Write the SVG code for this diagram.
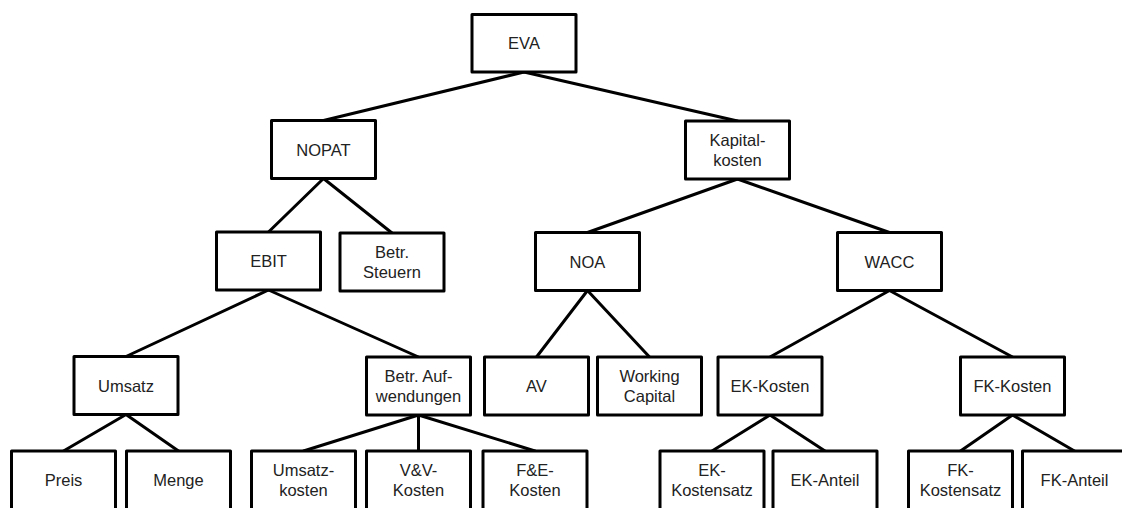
<svg xmlns="http://www.w3.org/2000/svg" width="1122" height="508" viewBox="0 0 1122 508">
<style>
.b{fill:#fff;stroke:#000;stroke-width:3;stroke-linejoin:round}
.c line{stroke:#000;stroke-width:3;stroke-linecap:round}
text{font-family:"Liberation Sans",Arial,sans-serif;font-size:16.5px;fill:#222;text-anchor:middle}
</style>
<rect width="1122" height="508" fill="#fff"/>
<g id="connectors" class="c">
<line x1="524" y1="72" x2="323.5" y2="120.5"/>
<line x1="524" y1="72" x2="737.5" y2="121"/>
<line x1="323.5" y1="178.5" x2="268.5" y2="232"/>
<line x1="323.5" y1="178.5" x2="392" y2="233"/>
<line x1="737.5" y1="179" x2="587.5" y2="232.5"/>
<line x1="737.5" y1="179" x2="889.5" y2="232.5"/>
<line x1="268.5" y1="290" x2="126" y2="356.5"/>
<line x1="268.5" y1="290" x2="418.5" y2="357"/>
<line x1="587.5" y1="290.5" x2="536.5" y2="357"/>
<line x1="587.5" y1="290.5" x2="649.5" y2="357"/>
<line x1="889.5" y1="290.5" x2="770" y2="357"/>
<line x1="889.5" y1="290.5" x2="1012.5" y2="357"/>
<line x1="126" y1="414.5" x2="63.5" y2="451"/>
<line x1="126" y1="414.5" x2="178.5" y2="451"/>
<line x1="418.5" y1="415" x2="303.5" y2="451"/>
<line x1="418.5" y1="415" x2="418.5" y2="451"/>
<line x1="418.5" y1="415" x2="535" y2="451"/>
<line x1="770" y1="415" x2="712" y2="451"/>
<line x1="770" y1="415" x2="825" y2="451"/>
<line x1="1012.5" y1="415" x2="960.5" y2="451"/>
<line x1="1012.5" y1="415" x2="1074.5" y2="451"/>
</g>
<g id="eva"><rect class="b" x="472" y="14.5" width="104" height="57.5"/><text x="524" y="49">EVA</text></g>
<g id="nopat"><rect class="b" x="271.5" y="120.5" width="104" height="58"/><text x="323.5" y="155.5">NOPAT</text></g>
<g id="kapitalkosten"><rect class="b" x="685.5" y="121" width="104" height="58"/><text x="737.5" y="146.25">Kapital-</text><text x="737.5" y="165.75">kosten</text></g>
<g id="ebit"><rect class="b" x="216.5" y="232" width="104" height="58"/><text x="268.5" y="267">EBIT</text></g>
<g id="steuern"><rect class="b" x="340" y="233" width="104" height="58"/><text x="392" y="258.25">Betr.</text><text x="392" y="277.75">Steuern</text></g>
<g id="noa"><rect class="b" x="535.5" y="232.5" width="104" height="58"/><text x="587.5" y="267.5">NOA</text></g>
<g id="wacc"><rect class="b" x="837.5" y="232.5" width="104" height="58"/><text x="889.5" y="267.5">WACC</text></g>
<g id="umsatz"><rect class="b" x="74" y="356.5" width="104" height="58"/><text x="126" y="391.5">Umsatz</text></g>
<g id="aufwendungen"><rect class="b" x="366.5" y="357" width="104" height="58"/><text x="418.5" y="382.25">Betr. Auf-</text><text x="418.5" y="401.75">wendungen</text></g>
<g id="av"><rect class="b" x="484.5" y="357" width="104" height="58"/><text x="536.5" y="392">AV</text></g>
<g id="working-capital"><rect class="b" x="597.5" y="357" width="104" height="58"/><text x="649.5" y="382.25">Working</text><text x="649.5" y="401.75">Capital</text></g>
<g id="ek-kosten"><rect class="b" x="718" y="357" width="104" height="58"/><text x="770" y="392">EK-Kosten</text></g>
<g id="fk-kosten"><rect class="b" x="960.5" y="357" width="104" height="58"/><text x="1012.5" y="392">FK-Kosten</text></g>
<g id="preis"><rect class="b" x="11.5" y="451" width="104" height="60"/><text x="63.5" y="486">Preis</text></g>
<g id="menge"><rect class="b" x="126.5" y="451" width="104" height="60"/><text x="178.5" y="486">Menge</text></g>
<g id="umsatzkosten"><rect class="b" x="251.5" y="451" width="104" height="60"/><text x="303.5" y="476.25">Umsatz-</text><text x="303.5" y="495.75">kosten</text></g>
<g id="vv-kosten"><rect class="b" x="366.5" y="451" width="104" height="60"/><text x="418.5" y="476.25">V&amp;V-</text><text x="418.5" y="495.75">Kosten</text></g>
<g id="fe-kosten"><rect class="b" x="483" y="451" width="104" height="60"/><text x="535" y="476.25">F&amp;E-</text><text x="535" y="495.75">Kosten</text></g>
<g id="ek-kostensatz"><rect class="b" x="660" y="451" width="104" height="60"/><text x="712" y="476.25">EK-</text><text x="712" y="495.75">Kostensatz</text></g>
<g id="ek-anteil"><rect class="b" x="773" y="451" width="104" height="60"/><text x="825" y="486">EK-Anteil</text></g>
<g id="fk-kostensatz"><rect class="b" x="908.5" y="451" width="104" height="60"/><text x="960.5" y="476.25">FK-</text><text x="960.5" y="495.75">Kostensatz</text></g>
<g id="fk-anteil"><rect class="b" x="1022.5" y="451" width="104" height="60"/><text x="1074.5" y="486">FK-Anteil</text></g>
</svg>
